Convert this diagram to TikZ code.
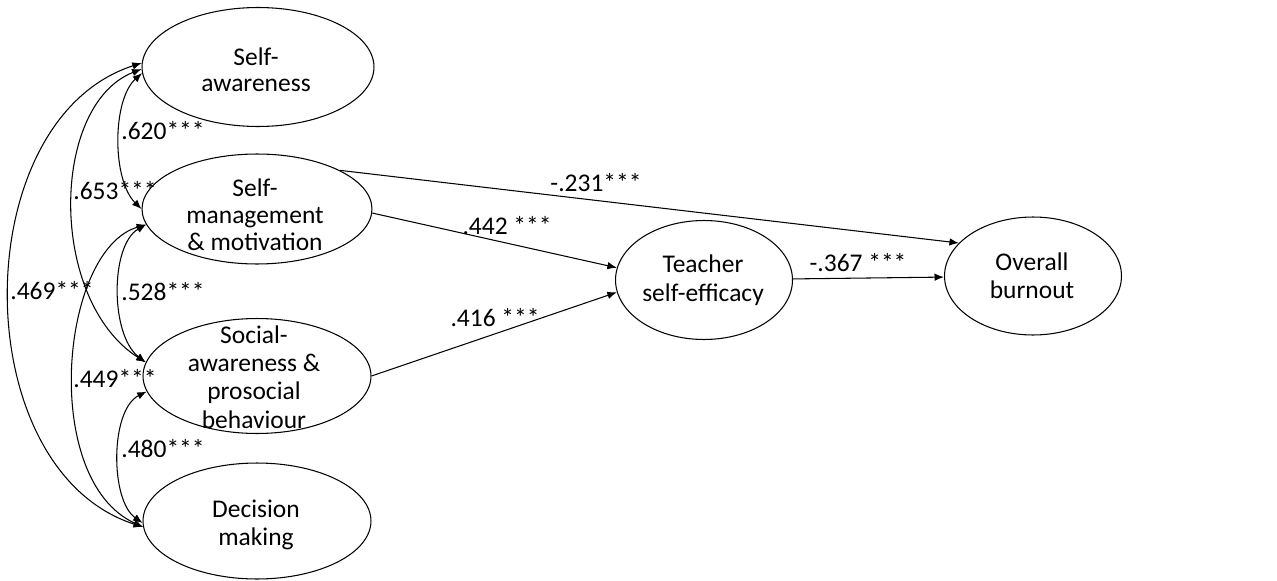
\documentclass[tikz,border=0pt]{standalone}
\usepackage{fontspec}
\setmainfont{Carlito}
\usetikzlibrary{arrows.meta,shapes.geometric}
\begin{document}
\begin{tikzpicture}[x=0.02cm,y=-0.02cm,
  ell/.style={draw,ellipse,line width=0.6pt,inner sep=0pt},
  txt/.style={align=center,inner sep=0pt,font=\fontsize{14.5}{16}\selectfont},
  lab/.style={inner sep=0pt,font=\fontsize{14.5}{16.5}\selectfont},
  arr/.style={line width=0.6pt,-{Latex[length=1.9mm,width=1.5mm]}},
  biarr/.style={line width=0.6pt,{Latex[length=1.9mm,width=1.5mm]}-{Latex[length=1.9mm,width=1.5mm]}}]
\useasboundingbox (0,0) rectangle (1277,581);
% latent ellipses
\node[ell,minimum width=4.64cm,minimum height=2.38cm] (sa) at (258,67) {};
\node[ell,minimum width=4.6cm,minimum height=2.2cm] (sm) at (257,209) {};
\node[ell,minimum width=4.56cm,minimum height=2.3cm] (so) at (257,376) {};
\node[ell,minimum width=4.56cm,minimum height=2.32cm] (dm) at (257,521) {};
\node[ell,minimum width=3.54cm,minimum height=2.38cm] (tse) at (704,280) {};
\node[ell,minimum width=3.54cm,minimum height=2.36cm] (bo) at (1033,276) {};
% texts
\node[txt,font=\fontsize{14.5}{15}\selectfont] (sat) at (256,70) {Self-\\awareness};
\node[txt,font=\fontsize{14.5}{15.5}\selectfont] (smt) at (255,215) {Self-\\management\\\& motivation};
\node[txt,font=\fontsize{14.5}{16.2}\selectfont] (sot) at (254,377) {Social-\\awareness \&\\prosocial\\behaviour};
\node[txt] (dmt) at (256,525) {Decision\\making};
\node[txt,font=\fontsize{14.5}{16.5}\selectfont] (tset) at (703,280) {Teacher\\self-efficacy};
\node[txt] (bot) at (1032,276) {Overall\\burnout};
% structural paths
\draw[arr] (sm.25) -- (bo.156);
\draw[arr] (sm.-2) -- (tse.172);
\draw[arr] (so.east) -- (tse.188);
\draw[arr] (tse) -- (bo);
% correlations
\draw[biarr] (sa.183) .. controls (112,100) and (112,180) .. (sm.180);
\draw[biarr] (sa.181) .. controls (50,105) and (48,300) .. (so.173);
\draw[biarr] (sa.178) .. controls (-35,120) and (-35,470) .. (dm.183);
\draw[biarr] (sm.188) .. controls (110,245) and (110,335) .. (so.173);
\draw[biarr] (sm.188) .. controls (60,250) and (40,480) .. (dm.183);
\draw[biarr] (so.188) .. controls (110,410) and (110,500) .. (dm.181);
% labels
\node[lab] (l620) at (163,131) {.620***};
\node[lab] (l653) at (115,191) {.653***};
\node[lab] (l469) at (52,291) {.469***};
\node[lab] (l528) at (163,292) {.528***};
\node[lab] (l449) at (115,379) {.449***};
\node[lab] (l480) at (163,449) {.480***};
\node[lab] (l231) at (596,183) {-.231***};
\node[lab] (l442) at (507,226) {.442 ***};
\node[lab] (l416) at (495,318) {.416 ***};
\node[lab] (l367) at (858,263) {-.367 ***};
\end{tikzpicture}
\end{document}
